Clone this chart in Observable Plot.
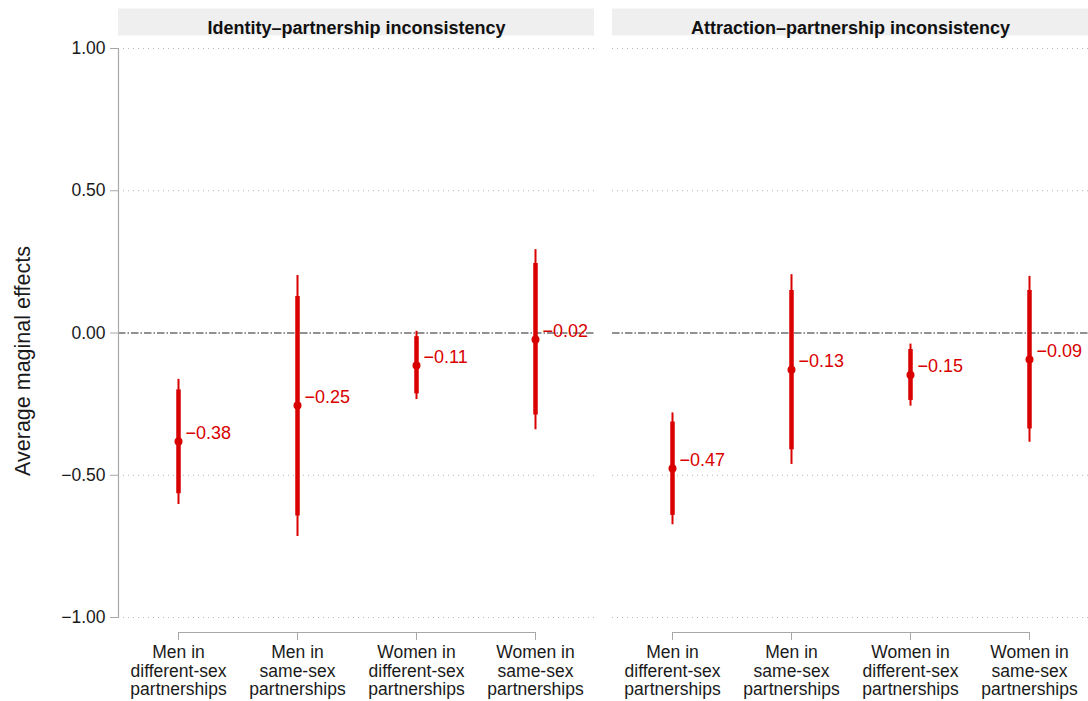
<!DOCTYPE html>
<html>
<head>
<meta charset="utf-8">
<script src="https://cdn.jsdelivr.net/npm/d3@7"></script>
<script src="https://cdn.jsdelivr.net/npm/@observablehq/plot@0.6"></script>
<style>
  html, body { margin: 0; padding: 0; background: #fff; }
  #chart { width: 1088px; height: 701px; }
</style>
</head>
<body>
<div id="chart"></div>
<script>
// ---- data ----
const panels = ["Identity–partnership inconsistency", "Attraction–partnership inconsistency"];
const categories = [
  "Men in different-sex partnerships",
  "Men in same-sex partnerships",
  "Women in different-sex partnerships",
  "Women in same-sex partnerships"
];
const categoryTickLabels = [
  "Men in\ndifferent-sex\npartnerships",
  "Men in\nsame-sex\npartnerships",
  "Women in\ndifferent-sex\npartnerships",
  "Women in\nsame-sex\npartnerships"
];
const yTicks = [-1, -0.5, 0, 0.5, 1];
const yLabel = "Average maginal effects";

// Identity–partnership inconsistency
const identityEstimate = [-0.381, -0.255, -0.114, -0.023];
const identityLabel = ["−0.38", "−0.25", "−0.11", "−0.02"];
const identityOuterLow = [-0.603, -0.715, -0.234, -0.340];
const identityOuterHigh = [-0.163, 0.202, 0.006, 0.293];
const identityInnerLow = [-0.565, -0.643, -0.214, -0.288];
const identityInnerHigh = [-0.200, 0.128, -0.013, 0.244];

// Attraction–partnership inconsistency
const attractionEstimate = [-0.476, -0.129, -0.148, -0.093];
const attractionLabel = ["−0.47", "−0.13", "−0.15", "−0.09"];
const attractionOuterLow = [-0.674, -0.462, -0.257, -0.384];
const attractionOuterHigh = [-0.281, 0.205, -0.039, 0.199];
const attractionInnerLow = [-0.641, -0.410, -0.237, -0.337];
const attractionInnerHigh = [-0.313, 0.149, -0.058, 0.149];

// ---- table built from the arrays ----
const series = [
  [identityEstimate, identityLabel, identityOuterLow, identityOuterHigh, identityInnerLow, identityInnerHigh],
  [attractionEstimate, attractionLabel, attractionOuterLow, attractionOuterHigh, attractionInnerLow, attractionInnerHigh]
];
const rows = [];
panels.forEach((panel, p) => {
  const [est, lab, olo, ohi, ilo, ihi] = series[p];
  categories.forEach((category, i) => {
    rows.push({panel, category, est: est[i], label: lab[i], olo: olo[i], ohi: ohi[i], ilo: ilo[i], ihi: ihi[i]});
  });
});

const red = "#d90000";
const axisGray = "#a8a8a8";
const textColor = "#1a1a1a";
const fmt = d3.format(".2f");

const chart = Plot.plot({
  width: 1088,
  height: 701,
  marginLeft: 118,
  marginRight: 0,
  marginTop: 48,
  marginBottom: 84,
  style: {fontFamily: "'Liberation Sans', Arial, Helvetica, sans-serif", fontSize: "17px", color: textColor, background: "#fff"},
  fx: {domain: panels, padding: 0.037, axis: null, label: null},
  x: {type: "point", domain: categories, padding: 0.5, axis: null, label: null},
  y: {domain: [-1, 1], axis: null, label: null},
  marks: [
    // header strips and titles
    Plot.ruleY(panels, {fx: d => d, y: () => yTicks[yTicks.length - 1], dy: -26.5, strokeWidth: 27, stroke: "#efefef"}),
    Plot.text(panels, {fx: d => d, text: d => d, frameAnchor: "top", dy: -27, fontWeight: "bold", fontSize: 18, fill: "#111"}),
    // dotted grid
    Plot.ruleY(yTicks.filter(d => d !== 0), {stroke: "#b5b5b5", strokeDasharray: "1,4", strokeWidth: 1}),
    // zero reference line
    Plot.ruleY([0], {stroke: "#6e6e6e", strokeDasharray: "7.5,2,1.5,2", strokeWidth: 1.3}),
    // y axis
    Plot.frame({anchor: "left", facetAnchor: "left", stroke: axisGray, strokeWidth: 1.2}),
    Plot.axisY({ticks: yTicks, tickFormat: fmt, tickSize: 8, tickPadding: 5, stroke: axisGray, fill: textColor, fontSize: 17.5, label: null}),
    Plot.text([yLabel], {fx: () => panels[0], text: d => d, frameAnchor: "left", textAnchor: "middle", rotate: -90, dx: -95, dy: 28, fontSize: 21.5, fill: textColor}),
    // x axis (bracket style)
    Plot.ruleY(panels, {fx: d => d, y: () => yTicks[0], x1: () => categories[0], x2: () => categories[categories.length - 1], dy: 15, stroke: axisGray, strokeWidth: 1.2}),
    Plot.axisX({dy: 15, tickSize: 8, tickPadding: 4, tickFormat: d => categoryTickLabels[categories.indexOf(d)], stroke: axisGray, fill: textColor, fontSize: 17.5, lineHeight: 1.07, label: null}),
    // estimates
    Plot.ruleX(rows, {fx: "panel", x: "category", y1: "olo", y2: "ohi", stroke: red, strokeWidth: 2}),
    Plot.ruleX(rows, {fx: "panel", x: "category", y1: "ilo", y2: "ihi", stroke: red, strokeWidth: 4.5}),
    Plot.dot(rows, {fx: "panel", x: "category", y: "est", r: 4, fill: red, stroke: "none"}),
    Plot.text(rows, {fx: "panel", x: "category", y: "est", text: "label", dx: 7, dy: -8.5, textAnchor: "start", fill: red, fontSize: 18})
  ]
});
document.getElementById("chart").appendChild(chart);
</script>
</body>
</html>
